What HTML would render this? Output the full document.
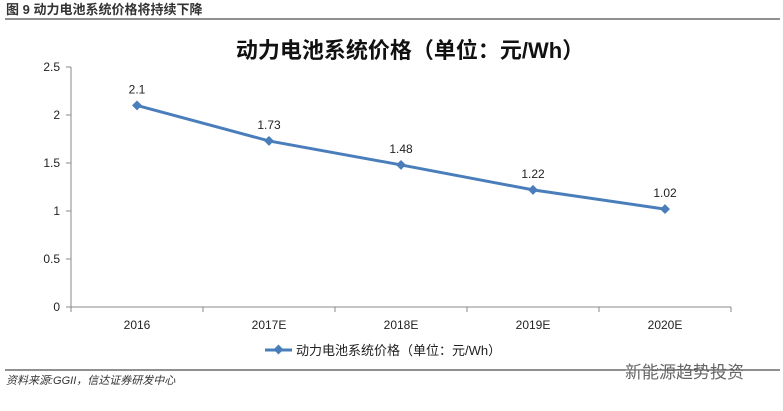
<!DOCTYPE html>
<html><head><meta charset="utf-8"><style>
body{margin:0;background:#fff;width:783px;height:406px;overflow:hidden;font-family:"Liberation Sans","Noto Sans CJK SC",sans-serif}
</style></head><body>
<svg width="783" height="406" xmlns="http://www.w3.org/2000/svg" font-family="Liberation Sans, Noto Sans CJK SC, sans-serif">
<text x="6" y="14" font-size="13" font-weight="bold" fill="#333">图 9 动力电池系统价格将持续下降</text>
<line x1="5" y1="19" x2="780" y2="19" stroke="#222" stroke-width="1"/>
<text x="410" y="58" font-size="22" font-weight="bold" text-anchor="middle" fill="#111">动力电池系统价格（单位：元/Wh）</text>
<g id="axes"></g>
<g id="marks"></g>
<g>
<line x1="265" y1="350" x2="292" y2="350" stroke="#4a7ebb" stroke-width="3"/>
<rect x="275" y="346" width="7" height="7" fill="#4a7ebb" transform="rotate(45 278.5 349.5)"/>
<text x="296" y="355" font-size="13" fill="#222">动力电池系统价格（单位：元/Wh）</text>
</g>
<line x1="5" y1="370" x2="780" y2="370" stroke="#222" stroke-width="1"/>
<text x="6" y="384" font-size="11" font-style="italic" fill="#333">资料来源:GGII，信达证券研发中心</text>
<text x="625" y="378" font-size="17" fill="#666">新能源趋势投资</text>
</svg>
<script>
const categories=["2016","2017E","2018E","2019E","2020E"];
const values=[2.1,1.73,1.48,1.22,1.02];
const yTicks=[0,0.5,1,1.5,2,2.5];
const NS="http://www.w3.org/2000/svg";
const x0=71,bw=132,yBase=307,yScale=96;
const xp=i=>x0+bw*(i+0.5);
const yp=v=>yBase-v*yScale;
function mk(t,a,p){const e=document.createElementNS(NS,t);for(const k in a)e.setAttribute(k,a[k]);p.appendChild(e);return e;}
const ax=document.getElementById('axes'),mg=document.getElementById('marks');
let e=mk('line',{x1:x0,y1:yp(2.5),x2:x0,y2:yBase,stroke:'#888'},ax);


e=mk('line',{x1:x0,y1:yBase,x2:x0+bw*categories.length,y2:yBase,stroke:'#888'},ax);


yTicks.forEach(v=>{
 const t=mk('line',{x1:x0-5,y1:yp(v),x2:x0,y2:yp(v),stroke:'#888'},ax);
 
 
 const l=mk('text',{x:x0-11,y:yp(v)+4,'font-size':12,'text-anchor':'end',fill:'#222'},ax);
 l.textContent=String(v);
 
 
});
for(let i=0;i<=categories.length;i++){
 const t=mk('line',{x1:x0+bw*i,y1:yBase,x2:x0+bw*i,y2:yBase+5,stroke:'#888'},ax);
 
 
}
categories.forEach((c,i)=>{
 const l=mk('text',{x:xp(i),y:yBase+22,'font-size':12,'text-anchor':'middle',fill:'#222'},ax);
 l.textContent=c;
 
 
});
const pl=mk('polyline',{points:values.map((v,i)=>xp(i)+','+yp(v)).join(' '),fill:'none',stroke:'#4a7ebb','stroke-width':3},mg);


values.forEach((v,i)=>{
 const r=mk('rect',{x:xp(i)-3.5,y:yp(v)-3.5,width:7,height:7,fill:'#4a7ebb',transform:`rotate(45 ${xp(i)} ${yp(v)})`},mg);
 
 
 const l=mk('text',{x:xp(i),y:yp(v)-12,'font-size':12,'text-anchor':'middle',fill:'#222'},mg);
 l.textContent=String(v);
 
 
});
</script>
</body></html>
